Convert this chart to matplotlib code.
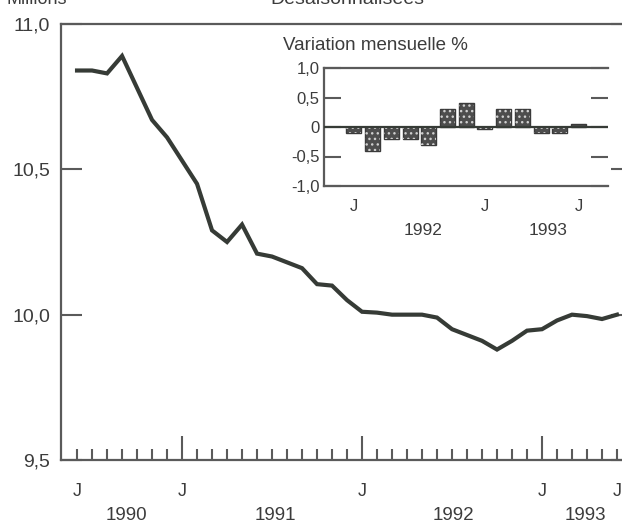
import numpy as np
import matplotlib
matplotlib.use("Agg")
import matplotlib.pyplot as plt

plt.rcParams['font.family'] = ['Liberation Sans', 'DejaVu Sans']

# monthly series, June 1990 .. June 1993 (millions, seasonally adjusted)
employment = [10.84, 10.84, 10.83, 10.89, 10.78, 10.67, 10.61, 10.53, 10.45,
              10.29, 10.25, 10.31, 10.21, 10.20, 10.18, 10.16, 10.105, 10.10,
              10.05, 10.01, 10.007, 10.00, 10.00, 10.00, 9.99, 9.95, 9.93,
              9.91, 9.88, 9.91, 9.945, 9.95, 9.98, 10.00, 9.995, 9.985, 10.0]
main_month_labels = ["J", "J", "J", "J", "J"]
main_month_pos = [0, 7, 19, 31, 36]
main_years = ["1990", "1991", "1992", "1993"]
main_year_pos = [3.3, 13.2, 25.1, 33.9]
jan_pos = [7, 19, 31]

# monthly % change, June 1992 .. June 1993
monthly_change = [-0.1, -0.4, -0.2, -0.2, -0.3, 0.3, 0.4, -0.03, 0.3, 0.3,
                  -0.1, -0.1, 0.05]
inset_month_labels = ["J", "J", "J"]
inset_month_pos = [0, 7, 12]
inset_years = ["1992", "1993"]
inset_year_pos = [3.7, 10.4]

W, H = 622, 523
LINE = '#363b36'
AX = '#5a5a5a'
TXT = '#3c3c3c'

fig = plt.figure(figsize=(W / 100, H / 100), dpi=100)

def frac(x0, y0, x1, y1):
    return [x0 / W, 1 - y1 / H, (x1 - x0) / W, (y1 - y0) / H]

ax = fig.add_axes(frac(61, 24, 632, 460))
months = np.arange(len(employment))
ax.plot(months, employment, color=LINE, lw=3.0, solid_joinstyle='miter')
ax.set_xlim(-1.07, 37)
ax.set_ylim(9.5, 11.0)

for side in ['left', 'bottom', 'top']:
    ax.spines[side].set_color(AX)
    ax.spines[side].set_linewidth(1.6)
ax.spines['right'].set_visible(False)

ax.set_yticks([9.5, 10.0, 10.5, 11.0])
ax.set_yticklabels(['9,5', '10,0', '10,5', '11,0'])
ax.tick_params(axis='y', direction='in', length=15, width=1.5, color=AX,
               right=True, pad=8, labelsize=14, labelcolor=TXT)

ax.set_xticks(jan_pos)
ax.set_xticks(months, minor=True)
ax.set_xticklabels([])
ax.tick_params(axis='x', which='major', direction='in', length=17,
               width=1.5, color=AX)
ax.tick_params(axis='x', which='minor', direction='in', length=8,
               width=1.5, color=AX)

for lab, p in zip(main_month_labels, main_month_pos):
    ax.text(p, -0.073, lab, transform=ax.get_xaxis_transform(), ha='center',
            va='center', fontsize=13, color=TXT)
for lab, p in zip(main_years, main_year_pos):
    ax.text(p, -0.128, lab, transform=ax.get_xaxis_transform(), ha='center',
            va='center', fontsize=13.5, color=TXT)

fig.text(7 / W, 1 - 4 / H, "Millions", ha='left', va='baseline',
         fontsize=13, color=TXT)
fig.text(347 / W, 1 - 4 / H, "Désaisonnalisées", ha='center',
         va='baseline', fontsize=14, color=TXT)

# inset: monthly change bars
ins = fig.add_axes(frac(324, 68, 608, 186))
ins.set_facecolor('white')
pos = np.arange(len(monthly_change))
ins.bar(pos, monthly_change, width=0.8, color='#4d4d4d', edgecolor='#3a3a3a',
        linewidth=1.0, zorder=2)
ins.bar(pos, monthly_change, width=0.8, facecolor='none', edgecolor='#cfcfcf',
        hatch='...', linewidth=0, zorder=3)
ins.axhline(0, color=LINE, lw=1.6, zorder=4)
ins.set_xlim(-1.6, 13.58)
ins.set_ylim(-1.0, 1.0)
for side in ['left', 'bottom', 'top']:
    ins.spines[side].set_color(AX)
    ins.spines[side].set_linewidth(1.6)
ins.spines['right'].set_visible(False)
ins.set_yticks([-1.0, -0.5, 0, 0.5, 1.0])
ins.set_yticklabels(['-1,0', '-0,5', '0', '0,5', '1,0'])
ins.tick_params(axis='y', direction='in', length=12, width=1.5, color=AX,
                right=True, pad=3, labelsize=12, labelcolor=TXT)
ins.set_xticks([])
for lab, p in zip(inset_month_labels, inset_month_pos):
    ins.text(p, -0.17, lab, transform=ins.get_xaxis_transform(), ha='center',
             va='center', fontsize=12, color=TXT)
for lab, p in zip(inset_years, inset_year_pos):
    ins.text(p, -0.38, lab, transform=ins.get_xaxis_transform(), ha='center',
             va='center', fontsize=12.5, color=TXT)
ins.text(283 / W, 1 - 46 / H, "Variation mensuelle %", transform=fig.transFigure,
         ha='left', va='center', fontsize=13.5, color=TXT)

fig.savefig("out.png", dpi=100)
